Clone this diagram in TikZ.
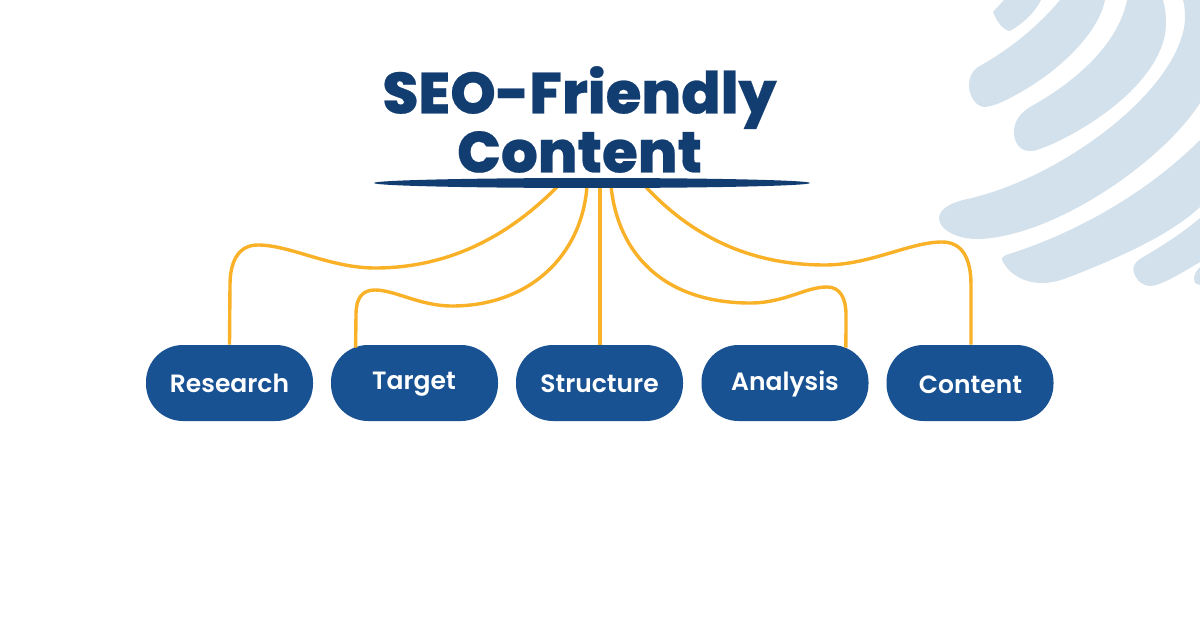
\documentclass[tikz,border=0pt]{standalone}
\usepackage{fontspec}
\setmainfont{Poppins}
\newfontfamily\titlefont{Poppins ExtraBold}[FakeBold=0.4]
\newfontfamily\pillfont{Poppins SemiBold}
\usetikzlibrary{calc,shapes.geometric}
\definecolor{navy}{HTML}{123D71}
\definecolor{pillblue}{HTML}{185293}
\definecolor{amber}{HTML}{F9B128}
\definecolor{pale}{HTML}{D3E1EC}
\tikzset{
  pill/.style={fill=pillblue,draw=none,rounded corners=18.5pt,minimum width=83.5pt,minimum height=38pt,inner sep=0pt},
  pilltext/.style={text=white,font=\pillfont\fontsize{12.5}{15}\selectfont,inner sep=0pt,anchor=center},
  link/.style={draw=amber,line width=1.7pt},
  blob/.style={fill=pale,draw=none},
  barshape/.style={ellipse,fill=navy,draw=none,minimum width=218pt,minimum height=5pt,inner sep=0pt,outer sep=0pt}
}
\begin{document}
\begin{tikzpicture}[x=0.5pt,y=-0.5pt]
\useasboundingbox[fill=white] (0,0) rectangle (1200,631);
% background shape
\fill[blob] (1004,0) -- (993,12) .. controls (997,22) and (1003,30) .. (1010,31) .. controls (1025,22) and (1035,12) .. (1041,0) -- cycle;
\fill[blob] (1060,0) .. controls (1035,30) and (1005,52) .. (978,67) .. controls (971,72) and (969,78) .. (969,87) .. controls (970,97) and (976,107) .. (985,107) .. controls (993,106) and (1000,103) .. (1006,100) .. controls (1055,76) and (1098,35) .. (1105,0) -- cycle;
\fill[blob] (1127,0) .. controls (1118,45) and (1075,82) .. (1030,107) .. controls (1019,114) and (1014,122) .. (1014,132) .. controls (1014,143) and (1020,151) .. (1030,151) .. controls (1037,151) and (1042,148) .. (1050,145) .. controls (1110,118) and (1166,70) .. (1166,23) .. controls (1166,14) and (1165,7) .. (1163,0) -- cycle;
\fill[blob] (1183,0) .. controls (1185,7) and (1185,14) .. (1185,20) .. controls (1180,90) and (1060,180) .. (963,200) .. controls (948,204) and (939,210) .. (939,219) .. controls (940,230) and (957,239) .. (977,239) .. controls (1050,238) and (1160,165) .. (1200,103) -- (1200,0) -- cycle;
\fill[blob] (1200,140) .. controls (1150,190) and (1080,232) .. (1006,255) .. controls (1002,257) and (1001,259) .. (1003,262) .. controls (1010,275) and (1025,283) .. (1042,283) .. controls (1052,283) and (1062,280) .. (1072,276) .. controls (1120,257) and (1170,235) .. (1200,207) -- cycle;
\fill[blob] (1200,218) .. controls (1180,235) and (1160,247) .. (1140,259) .. controls (1134,263) and (1132,268) .. (1134,273) .. controls (1137,281) and (1143,286) .. (1150,286) .. controls (1160,286) and (1180,274) .. (1200,262) -- cycle;
\fill[blob] (1200,267) .. controls (1196,271) and (1194,275) .. (1194,279) .. controls (1194,283) and (1197,285) .. (1200,285) -- cycle;
% title
\node[text=navy,font=\titlefont\fontsize{29}{29.5}\selectfont,align=center,inner sep=0pt] (title) at (579.5,119.5) {SEO-Friendly\\Content};
% pills
\node[pill] (research) at (229.5,383) {};
\node[pill] (target) at (414.5,383) {};
\node[pill] (structure) at (599.5,383) {};
\node[pill] (analysis) at (785,383) {};
\node[pill] (content) at (970,383) {};
\node[pilltext] (tresearch) at (229.5,383) {Research};
\node[pilltext] (ttarget) at (414,384) {Target};
\node[pilltext] (tstructure) at (599.5,384) {Structure};
\node[pilltext] (tanalysis) at (785,384) {Analysis};
\node[pilltext] (tcontent) at (970.5,385) {Content};
% connectors
\coordinate (b1) at (558,186);
\coordinate (b2) at (587,186);
\coordinate (b3) at (600,186);
\coordinate (b4) at (611,186);
\coordinate (b5) at (645,186);
\draw[link] (b1) .. controls (510,235) and (450,268) .. (375,268) .. controls (330,268) and (290,245) .. (258,245) .. controls (238,245) and (230,262) .. (230,285) -- (research.north);
\draw[link] (b2) .. controls (582,255) and (530,306) .. (452,306) .. controls (420,306) and (395,290) .. (375,290) .. controls (362,290) and (356,298) .. (356,315) -- ($(target.north west)+(25,3)$);
\draw[link] (b3) -- (structure.north -| b3);
\draw[link] (b4) .. controls (618,255) and (665,303) .. (750,303) .. controls (785,303) and (805,287) .. (827,287) .. controls (840,287) and (846,298) .. (846,315) -- ($(analysis.north east)+(-23,3)$);
\draw[link] (b5) .. controls (695,240) and (755,265) .. (825,265) .. controls (870,265) and (910,242) .. (942,242) .. controls (962,242) and (971,258) .. (971,285) -- (content.north -| 971,285);
% bar
\node[barshape] (bar) at (592,183) {};
\end{tikzpicture}
\end{document}
